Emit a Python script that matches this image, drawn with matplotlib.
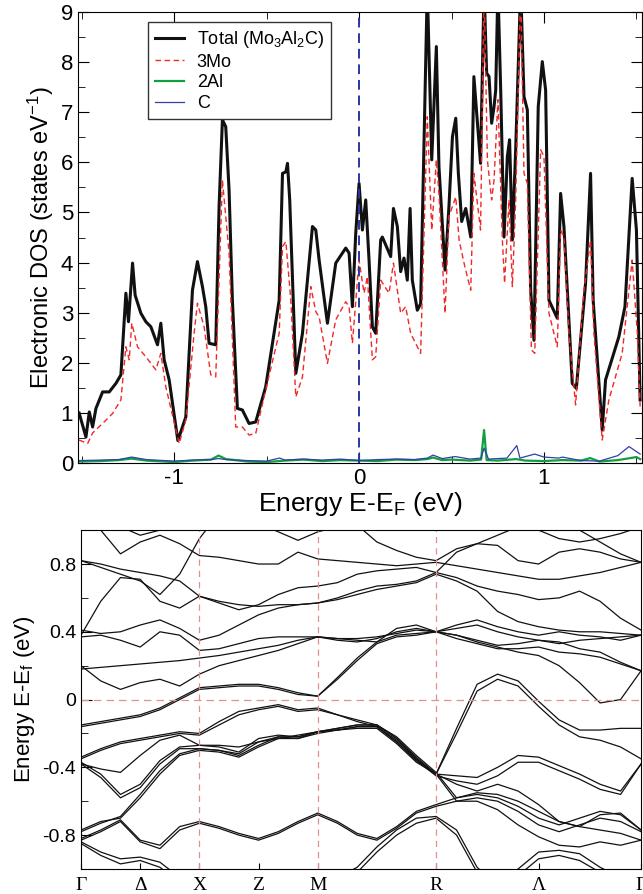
import numpy as np
import matplotlib
matplotlib.use("Agg")
import matplotlib.pyplot as plt
from matplotlib.ticker import MultipleLocator

plt.rcParams['font.family'] = ['Liberation Sans', 'DejaVu Sans']
plt.rcParams['mathtext.default'] = 'regular'
plt.rcParams['axes.unicode_minus'] = False

# ---- DOS data (energy in eV, DOS in states/eV) ----
E_tot = [-1.514, -1.477, -1.459, -1.441, -1.423, -1.387, -1.351, -1.315, -1.288, -1.261,
         -1.247, -1.225, -1.211, -1.180, -1.153, -1.126, -1.090, -1.072, -1.054, -1.027,
         -0.980, -0.937, -0.901, -0.874, -0.847, -0.829, -0.811, -0.775, -0.757, -0.739,
         -0.721, -0.703, -0.685, -0.658, -0.631, -0.595, -0.559, -0.505, -0.432, -0.414,
         -0.396, -0.387, -0.375, -0.342, -0.306, -0.252, -0.234, -0.216, -0.171, -0.126,
         -0.072, -0.054, -0.036, -0.018, 0.0, 0.018, 0.036, 0.054, 0.072, 0.090,
         0.117, 0.126, 0.171, 0.186, 0.207, 0.225, 0.243, 0.261, 0.276, 0.288,
         0.315, 0.333, 0.369, 0.393, 0.418, 0.432, 0.465, 0.486, 0.505, 0.523,
         0.537, 0.555, 0.577, 0.604, 0.621, 0.657, 0.676, 0.690, 0.703, 0.717,
         0.730, 0.739, 0.751, 0.766, 0.784, 0.802, 0.814, 0.829, 0.847, 0.874,
         0.892, 0.910, 0.928, 0.946, 0.969, 0.991, 1.009, 1.027, 1.072, 1.090,
         1.108, 1.153, 1.175, 1.225, 1.252, 1.266, 1.315, 1.333, 1.405, 1.438,
         1.477, 1.500, 1.520]
dos_tot = [1.00, 0.52, 1.02, 0.72, 1.09, 1.42, 1.42, 1.59, 1.76, 3.39,
           2.82, 3.99, 3.35, 2.99, 2.82, 2.72, 2.36, 2.79, 2.06, 1.66,
           0.45, 0.92, 3.45, 4.02, 3.52, 3.12, 2.39, 2.36, 5.12, 6.85,
           6.71, 5.45, 3.25, 1.09, 1.06, 0.79, 0.82, 1.52, 3.25, 5.78,
           5.81, 5.98, 5.25, 1.79, 2.59, 4.72, 4.65, 4.05, 2.79, 3.99,
           4.29, 4.19, 3.12, 4.58, 5.58, 4.65, 5.25, 4.05, 2.72, 2.59,
           4.45, 4.51, 4.12, 5.08, 4.72, 3.82, 4.09, 3.65, 5.08, 3.65,
           3.05, 3.18, 9.50, 6.05, 8.31, 5.92, 3.85, 5.11, 6.51, 6.88,
           5.78, 4.82, 5.08, 4.51, 7.71, 5.98, 9.50, 7.78, 7.71, 6.78,
           7.11, 7.44, 9.50, 7.44, 4.51, 6.12, 6.45, 4.45, 6.25, 9.50,
           7.31, 7.05, 3.45, 2.45, 7.11, 8.01, 7.44, 3.25, 2.89, 5.38,
           4.72, 1.59, 1.49, 3.59, 5.78, 3.25, 0.66, 1.66, 2.52, 3.12,
           5.68, 4.65, 1.26]

E_mo = [-1.514, -1.468, -1.441, -1.387, -1.333, -1.288, -1.261, -1.243, -1.229, -1.198,
        -1.153, -1.099, -1.072, -1.045, -0.973, -0.937, -0.892, -0.874, -0.838, -0.802,
        -0.775, -0.739, -0.721, -0.703, -0.667, -0.631, -0.595, -0.559, -0.505, -0.432,
        -0.414, -0.396, -0.369, -0.342, -0.306, -0.261, -0.234, -0.216, -0.171, -0.126,
        -0.072, -0.054, -0.036, 0.0, 0.027, 0.045, 0.072, 0.090, 0.117, 0.162,
        0.186, 0.207, 0.225, 0.252, 0.279, 0.333, 0.369, 0.393, 0.418, 0.432,
        0.465, 0.486, 0.523, 0.541, 0.572, 0.604, 0.621, 0.657, 0.676, 0.694,
        0.717, 0.730, 0.751, 0.775, 0.787, 0.811, 0.829, 0.847, 0.874, 0.892,
        0.910, 0.932, 0.950, 0.982, 1.000, 1.027, 1.072, 1.090, 1.108, 1.135,
        1.171, 1.216, 1.252, 1.270, 1.315, 1.351, 1.423, 1.477, 1.505, 1.520]
dos_mo = [0.46, 0.39, 0.60, 0.79, 0.99, 1.26, 2.32, 2.06, 2.79, 2.32,
          2.12, 1.86, 2.19, 1.52, 0.39, 0.86, 2.59, 3.19, 2.72, 1.76,
          1.72, 5.65, 4.92, 4.19, 0.72, 0.72, 0.56, 0.59, 1.46, 2.59,
          4.32, 4.42, 3.25, 1.32, 1.72, 3.52, 3.02, 2.92, 1.99, 2.86,
          3.22, 3.12, 2.39, 4.05, 3.39, 3.72, 2.06, 2.12, 3.65, 3.39,
          3.99, 3.45, 2.99, 3.12, 2.59, 2.19, 6.91, 4.65, 6.05, 5.38,
          2.99, 4.92, 5.31, 4.45, 3.92, 3.45, 5.78, 4.65, 9.50, 6.05,
          5.25, 5.65, 7.25, 4.45, 3.59, 5.25, 3.52, 5.25, 9.50, 5.78,
          5.58, 2.26, 2.19, 6.25, 6.12, 2.99, 2.32, 4.65, 4.52, 2.59,
          1.16, 3.45, 4.45, 2.59, 0.46, 1.26, 2.19, 4.05, 2.59, 1.13]

E_al = [-1.52, -1.40, -1.30, -1.23, -1.15, -1.00, -0.90, -0.80, -0.76, -0.72,
        -0.60, -0.50, -0.40, -0.30, -0.20, -0.10, 0.0, 0.10, 0.20, 0.30,
        0.37, 0.40, 0.45, 0.50, 0.60, 0.66, 0.676, 0.69, 0.75, 0.85,
        0.90, 1.00, 1.10, 1.20, 1.25, 1.30, 1.40, 1.50, 1.52]
dos_al = [0.03, 0.04, 0.06, 0.09, 0.05, 0.02, 0.05, 0.07, 0.15, 0.08,
          0.03, 0.02, 0.05, 0.07, 0.04, 0.06, 0.05, 0.04, 0.07, 0.06,
          0.08, 0.11, 0.06, 0.07, 0.05, 0.07, 0.66, 0.06, 0.05, 0.08,
          0.05, 0.04, 0.06, 0.05, 0.10, 0.03, 0.06, 0.12, 0.08]

E_c = [-1.52, -1.40, -1.30, -1.23, -1.15, -1.00, -0.90, -0.80, -0.76, -0.72,
       -0.60, -0.50, -0.43, -0.40, -0.30, -0.20, -0.10, 0.0, 0.10, 0.20,
       0.30, 0.37, 0.40, 0.45, 0.52, 0.60, 0.66, 0.676, 0.70, 0.80,
       0.853, 0.87, 0.95, 1.00, 1.08, 1.10, 1.20, 1.30, 1.40, 1.46, 1.52]
dos_c = [0.05, 0.06, 0.07, 0.12, 0.07, 0.04, 0.06, 0.07, 0.09, 0.07,
         0.05, 0.04, 0.10, 0.06, 0.08, 0.06, 0.08, 0.05, 0.07, 0.08,
         0.07, 0.10, 0.16, 0.09, 0.13, 0.08, 0.10, 0.30, 0.08, 0.10,
         0.35, 0.10, 0.18, 0.12, 0.10, 0.12, 0.05, 0.04, 0.15, 0.33, 0.18]

# ---- band structure (eV), sampled along G-X (7), X-M (6), M-R (6), R-G (10) ----
k_path = np.concatenate([np.linspace(0, 0.5, 7),
                         np.linspace(0.5, 1.0, 7)[1:],
                         np.linspace(1.0, 1.5, 7)[1:],
                         np.linspace(1.5, 1.5 + np.sqrt(3) / 2, 11)[1:]])
sym_k = [0.0, 0.25, 0.5, 0.75, 1.0, 1.5, 1.5 + np.sqrt(3) / 4, 1.5 + np.sqrt(3) / 2]
sym_labels = ['Γ', 'Δ', 'X', 'Z', 'M', 'R', 'Λ', 'Γ']

band1 = [1.15, 1.00, 0.86, 0.93, 0.97, 0.92, 0.85, 0.84, 0.82, 0.80, 0.80, 0.87, 0.83,
         0.82, 0.81, 0.80, 0.79, 0.80, 0.81, 0.79, 0.77, 0.75, 0.73, 0.71, 0.71, 0.73, 0.75, 0.78, 0.81]
band2 = [1.25, 1.12, 1.02, 0.97, 1.00, 1.06, 1.12, 1.10, 1.08, 1.04, 0.99, 0.94, 0.99,
         1.02, 1.07, 1.12, 1.16, 1.18, 1.20, 1.18, 1.15, 1.10, 1.05, 1.00, 0.95, 0.93, 0.95, 0.98, 1.02]
band3 = [0.82, 0.78, 0.74, 0.70, 0.62, 0.74, 0.95, 1.10, 1.20, 1.25, 1.25, 1.20, 1.15,
         1.10, 1.03, 0.93, 0.88, 0.84, 0.82, 0.89, 0.92, 0.91, 0.82, 0.80, 0.87, 0.89, 0.87, 0.83, 0.81]
band4 = [0.82, 0.80, 0.77, 0.75, 0.73, 0.70, 0.61, 0.57, 0.53, 0.56, 0.62, 0.66, 0.67,
         0.69, 0.74, 0.76, 0.77, 0.78, 0.75, 0.72, 0.67, 0.64, 0.62, 0.59, 0.60, 0.64, 0.58, 0.48, 0.41]
band5 = [0.38, 0.58, 0.72, 0.71, 0.58, 0.54, 0.61, 0.58, 0.56, 0.55, 0.56, 0.56, 0.57,
         0.60, 0.64, 0.67, 0.68, 0.70, 0.75, 0.87, 0.92, 0.97, 1.02, 1.06, 1.05, 1.00, 0.93, 0.86, 0.81]
band6 = [0.41, 0.39, 0.40, 0.44, 0.47, 0.42, 0.35, 0.38, 0.44, 0.50, 0.54, 0.56, 0.57,
         0.59, 0.62, 0.65, 0.67, 0.69, 0.74, 0.70, 0.64, 0.52, 0.46, 0.43, 0.41, 0.40, 0.40, 0.39, 0.38]
band7 = [0.37, 0.38, 0.35, 0.31, 0.40, 0.38, 0.29, 0.30, 0.33, 0.36, 0.37, 0.37, 0.37,
         0.36, 0.35, 0.34, 0.42, 0.44, 0.40, 0.44, 0.47, 0.43, 0.40, 0.38, 0.40, 0.38, 0.37, 0.35, 0.38]
band8 = [0.18, 0.19, 0.20, 0.21, 0.22, 0.23, 0.245, 0.26, 0.28, 0.30, 0.32, 0.35, 0.37,
         0.36, 0.36, 0.37, 0.39, 0.41, 0.40, 0.36, 0.33, 0.30, 0.30, 0.31, 0.28, 0.27, 0.25, 0.21, 0.17]
band9 = [0.20, 0.11, 0.06, 0.10, 0.12, 0.08, 0.15, 0.20, 0.23, 0.26, 0.29, 0.33, 0.37,
         0.35, 0.34, 0.36, 0.40, 0.42, 0.40, 0.38, 0.34, 0.31, 0.28, 0.26, 0.20, 0.10, -0.02, 0.0, 0.17]
band10 = [-0.15, -0.13, -0.11, -0.09, -0.05, 0.01, 0.07, 0.08, 0.09, 0.09, 0.07, 0.04, 0.02,
          0.13, 0.245, 0.34, 0.38, 0.39, 0.40, 0.38, 0.35, 0.32, 0.33, 0.35, 0.34, 0.30, 0.28, 0.22, 0.17]
band11 = [-0.16, -0.14, -0.12, -0.10, -0.06, 0.0, 0.06, 0.07, 0.08, 0.08, 0.06, 0.03, 0.02,
          0.12, 0.23, 0.33, 0.37, 0.38, 0.40, 0.42, 0.44, 0.40, 0.37, 0.35, 0.33, 0.35, 0.36, 0.37, 0.38]
band12 = [-0.34, -0.29, -0.25, -0.23, -0.21, -0.19, -0.20, -0.13, -0.07, -0.05, -0.03, -0.06, -0.05,
          -0.09, -0.13, -0.16, -0.25, -0.36, -0.44, -0.17, 0.09, 0.15, 0.11, -0.01, -0.12, -0.18, -0.18, -0.17, -0.17]
band13 = [-0.35, -0.30, -0.26, -0.24, -0.22, -0.20, -0.21, -0.15, -0.09, -0.06, -0.04, -0.07, -0.06,
          -0.09, -0.12, -0.15, -0.23, -0.35, -0.44, -0.20, 0.05, 0.12, 0.08, -0.04, -0.15, -0.22, -0.24, -0.28, -0.35]
band14 = [-0.37, -0.44, -0.56, -0.50, -0.36, -0.28, -0.27, -0.28, -0.31, -0.23, -0.21, -0.22, -0.19,
          -0.17, -0.15, -0.15, -0.23, -0.34, -0.44, -0.45, -0.46, -0.40, -0.33, -0.34, -0.39, -0.44, -0.50, -0.54, -0.38]
band15 = [-0.38, -0.46, -0.58, -0.52, -0.38, -0.29, -0.29, -0.30, -0.32, -0.25, -0.22, -0.23, -0.19,
          -0.18, -0.16, -0.16, -0.25, -0.36, -0.45, -0.48, -0.50, -0.45, -0.37, -0.37, -0.42, -0.47, -0.53, -0.56, -0.38]
band16 = [-0.38, -0.41, -0.43, -0.33, -0.24, -0.21, -0.27, -0.27, -0.28, -0.25, -0.23, -0.21, -0.19,
          -0.18, -0.17, -0.17, -0.26, -0.37, -0.44, -0.50, -0.54, -0.50, -0.54, -0.62, -0.72, -0.75, -0.68, -0.67, -0.77]
band17 = [-0.78, -0.73, -0.69, -0.56, -0.42, -0.32, -0.29, -0.30, -0.33, -0.27, -0.22, -0.22, -0.19,
          -0.17, -0.15, -0.15, -0.22, -0.33, -0.43, -0.58, -0.55, -0.56, -0.60, -0.66, -0.72, -0.75, -0.77, -0.79, -0.83]
band18 = [-0.77, -0.72, -0.70, -0.58, -0.44, -0.33, -0.30, -0.31, -0.34, -0.28, -0.23, -0.23, -0.20,
          -0.18, -0.16, -0.16, -0.24, -0.35, -0.44, -0.60, -0.60, -0.65, -0.74, -0.81, -0.86, -0.87, -0.84, -0.86, -0.83]
band19 = [-0.82, -0.77, -0.71, -0.83, -0.86, -0.75, -0.72, -0.75, -0.79, -0.82, -0.78, -0.72, -0.67,
          -0.72, -0.79, -0.82, -0.75, -0.66, -0.62, -0.58, -0.56, -0.58, -0.63, -0.70, -0.74, -0.70, -0.66, -0.68, -0.77]
band20 = [-0.83, -0.78, -0.72, -0.84, -0.88, -0.77, -0.73, -0.76, -0.80, -0.83, -0.79, -0.73, -0.68,
          -0.73, -0.80, -0.83, -0.76, -0.67, -0.63, -0.60, -0.58, -0.60, -0.66, -0.74, -0.78, -0.74, -0.70, -0.72, -0.78]
band21 = [-0.84, -0.90, -0.94, -0.93, -0.96, -1.05, -1.10, -1.10, -1.10, -1.10, -1.10, -1.10, -1.10,
          -1.05, -0.99, -0.87, -0.77, -0.70, -0.69, -0.77, -0.99, -1.10, -1.00, -0.90, -0.89, -0.91, -0.99, -1.05, -1.10]
band22 = [-0.85, -0.92, -0.97, -0.95, -0.99, -1.08, -1.12, -1.12, -1.12, -1.12, -1.12, -1.12, -1.12,
          -1.08, -1.02, -0.90, -0.80, -0.73, -0.70, -0.80, -1.02, -1.12, -1.04, -0.94, -0.92, -0.95, -1.02, -1.08, -1.12]

bands = [band1, band2, band3, band4, band5, band6, band7, band8, band9, band10, band11,
         band12, band13, band14, band15, band16, band17, band18, band19, band20, band21, band22]

fig = plt.figure(figsize=(6.43, 8.94), dpi=100)

# ---------------- DOS panel ----------------
ax1 = fig.add_axes([0.1213, 0.482, 0.8771, 0.5046])
ax1.plot(E_tot, dos_tot, color='#111111', lw=2.2, label='Total (Mo$_3$Al$_2$C)')
ax1.plot(E_mo, dos_mo, color='#f02828', lw=1.0, ls=(0, (4, 2.5)), label='3Mo')
ax1.plot(E_al, dos_al, color='#10a040', lw=1.6, label='2Al')
ax1.plot(E_c, dos_c, color='#3040a8', lw=0.9, label='C')
ax1.axvline(0, color='#2838a0', lw=1.4, ls=(0, (5, 3)))
ax1.set_xlim(-1.52, 1.53)
ax1.set_ylim(0, 9)
ax1.xaxis.set_major_locator(MultipleLocator(1))
ax1.xaxis.set_minor_locator(MultipleLocator(0.5))
ax1.yaxis.set_major_locator(MultipleLocator(1))
ax1.yaxis.set_minor_locator(MultipleLocator(0.5))
ax1.tick_params(which='both', direction='in', top=True, right=True, labelsize=16)
ax1.tick_params(which='major', length=8)
ax1.tick_params(which='minor', length=5)
ax1.set_xlabel('Energy E-E$_F$ (eV)', fontsize=19, labelpad=1)
ax1.set_ylabel('Electronic DOS (states eV$^{-1}$)', fontsize=17, labelpad=3)
leg = ax1.legend(loc='upper left', bbox_to_anchor=(0.124, 0.978), borderaxespad=0,
                 fontsize=13, fancybox=False, edgecolor='#333333', framealpha=1,
                 handlelength=1.6, handletextpad=0.7, labelspacing=0.2, borderpad=0.4)
leg.get_frame().set_linewidth(1.0)

# ---------------- band structure panel ----------------
ax2 = fig.add_axes([0.126, 0.028, 0.871, 0.379])
for b in bands:
    ax2.plot(k_path, b, color='#111111', lw=0.9)
ax2.axhline(0, color='#e09090', lw=0.9, ls=(0, (6, 4)))
for kv in [0.5, 1.0, 1.5]:
    ax2.axvline(kv, color='#e09090', lw=0.9, ls=(0, (5, 4)))
ax2.set_xlim(0, 1.5 + np.sqrt(3) / 2)
ax2.set_ylim(-1, 1)
ax2.set_xticks(sym_k)
ax2.set_xticklabels(sym_labels, family='Liberation Serif', fontsize=16)
ax2.set_yticks([-0.8, -0.4, 0, 0.4, 0.8])
ax2.set_yticklabels(['-0.8', '-0.4', '0', '0.4', '0.8'])
ax2.yaxis.set_minor_locator(MultipleLocator(0.2))
ax2.tick_params(which='both', direction='in', labelsize=14)
ax2.tick_params(axis='x', length=4, pad=6)
ax2.tick_params(axis='y', which='major', length=8)
ax2.tick_params(axis='y', which='minor', length=5)
ax2.set_ylabel('Energy E-E$_f$ (eV)', fontsize=16, labelpad=4)

fig.savefig('out.png', dpi=100)
